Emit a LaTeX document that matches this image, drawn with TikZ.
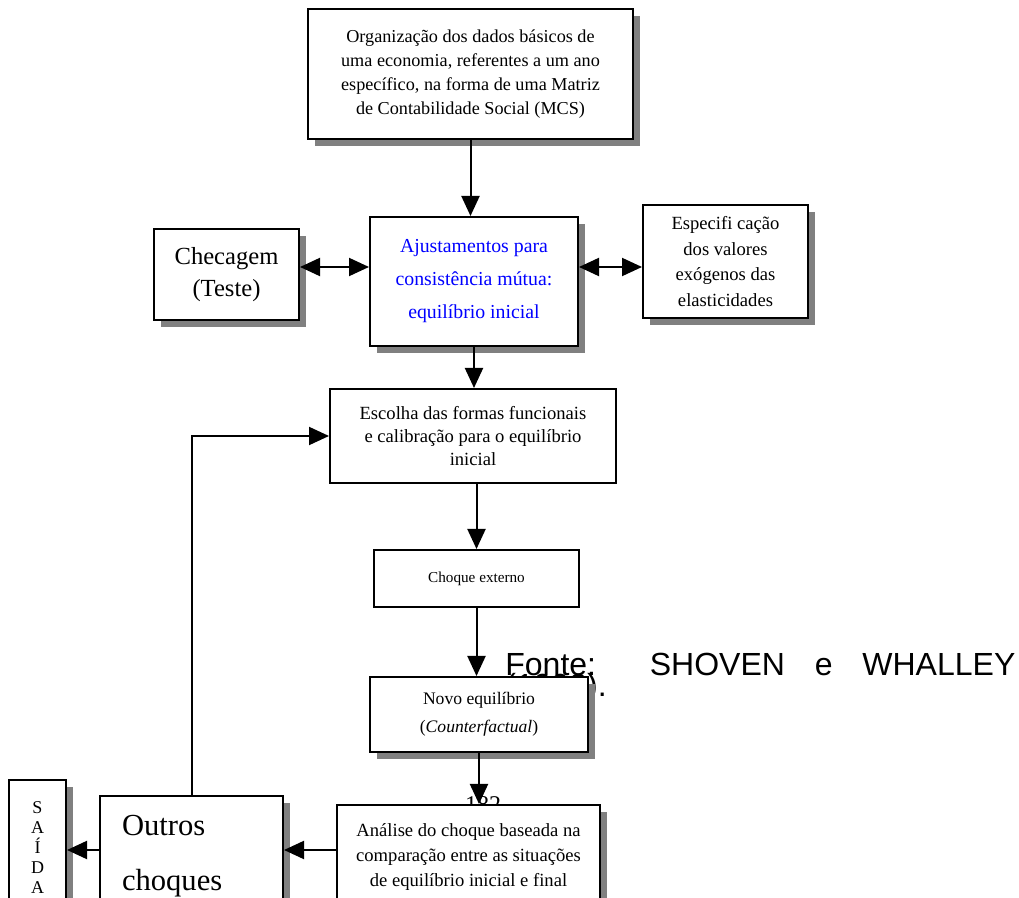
\documentclass[tikz,border=0pt]{standalone}
\usepackage{fontspec}
\setmainfont{Liberation Serif}
\newfontfamily\fontearial{Liberation Sans}
\usetikzlibrary{arrows.meta,shadows}

\begin{document}
\begin{tikzpicture}[x=0.5pt,y=-0.5pt,
  caixa/.style={draw, line width=1pt, fill=white, align=center, inner sep=0pt},
  sombra/.style={caixa, drop shadow={shadow xshift=3.3pt, shadow yshift=-3.3pt, fill=black!50, opacity=1}},
  seta/.style={line width=1pt, -{Triangle[length=10pt,width=9pt]}},
  setadupla/.style={line width=1pt, {Triangle[length=10pt,width=9pt]}-{Triangle[length=10pt,width=9pt]}}]
  \useasboundingbox (0,0) rectangle (1019,898);
  \clip (0,0) rectangle (1019,898);

  % textos que ficam por baixo das caixas
  \node[anchor=base west, inner sep=0pt, font=\fontearial\fontsize{16}{18}\selectfont]
    (fonte1) at (505,676) {\makebox[255pt][s]{Fonte: SHOVEN e WHALLEY}};
  \node[anchor=base west, inner sep=0pt, font=\fontearial\fontsize{16}{18}\selectfont]
    (fonte2) at (505,697) {(1992).};
  \node[anchor=base, inner sep=0pt, font=\fontsize{12}{14}\selectfont] (pagina) at (483,813) {182};

  % caixas
  \node[sombra, minimum width=162.5pt, minimum height=65pt, font=\fontsize{9.1}{12}\selectfont]
    (T) at (470.5,74) {Organização dos dados básicos de\\uma economia, referentes a um ano\\específico, na forma de uma Matriz\\de Contabilidade Social (MCS)};
  \node[sombra, minimum width=72.5pt, minimum height=45.5pt, font=\fontsize{12.3}{16}\selectfont]
    (C) at (226.5,274.5) {Checagem\\(Teste)};
  \node[sombra, minimum width=104pt, minimum height=64.5pt, text=blue, font=\fontsize{9.9}{16.5}\selectfont]
    (A) at (474,281.5) {Ajustamentos para\\consistência mútua:\\equilíbrio inicial};
  \node[sombra, minimum width=82.5pt, minimum height=56.5pt, font=\fontsize{9.3}{12.7}\selectfont]
    (E) at (725.5,261.5) {Especifi cação\\dos valores\\exógenos das\\elasticidades};
  \node[caixa, minimum width=143pt, minimum height=47pt, font=\fontsize{9.3}{11.5}\selectfont]
    (S) at (473,436) {Escolha das formas funcionais\\e calibração para o equilíbrio\\inicial};
  \node[caixa, minimum width=102.5pt, minimum height=28.5pt, font=\fontsize{7.6}{9}\selectfont]
    (X) at (476.5,578.5) {Choque externo};
  \node[sombra, minimum width=109pt, minimum height=37.5pt, font=\fontsize{8.8}{14}\selectfont]
    (Nv) at (479,714.5) {Novo equilíbrio\\(\textit{Counterfactual})};
  \node[sombra, minimum width=131.5pt, minimum height=52pt, font=\fontsize{9.3}{12.5}\selectfont]
    (N) at (468.5,857) {Análise do choque baseada na\\comparação entre as situações\\de equilíbrio inicial e final};
  \node[sombra, anchor=north, align=left, text width=69.5pt, inner xsep=11pt, inner ysep=9.5pt,
    font=\fontsize{15.3}{27.5}\selectfont]
    (O) at (191.5,795) {Outros\\choques};
  \node[sombra, anchor=north, minimum width=28.5pt, inner ysep=11pt, font=\fontsize{9}{10}\selectfont]
    (D) at (37.5,779) {S\\A\\Í\\D\\A};

  % ligações
  \coordinate (meio) at (0,267);
  \coordinate (linha) at (0,850);
  \draw[seta] (T.south) -- (T.south |- A.north);
  \draw[setadupla] (C.east |- meio) -- (A.west |- meio);
  \draw[setadupla] (A.east |- meio) -- (E.west |- meio);
  \draw[seta] (A.south) -- (A.south |- S.north);
  \draw[seta] (X.north |- S.south) -- (X.north);
  \draw[seta] (X.south) -- (X.south |- Nv.north);
  \draw[seta] (Nv.south) -- (Nv.south |- N.north);
  \draw[seta] (N.west |- linha) -- (O.east |- linha);
  \draw[seta] (O.west |- linha) -- (D.east |- linha);
  \draw[seta] (O.north) |- (S.west);
\end{tikzpicture}
\end{document}
